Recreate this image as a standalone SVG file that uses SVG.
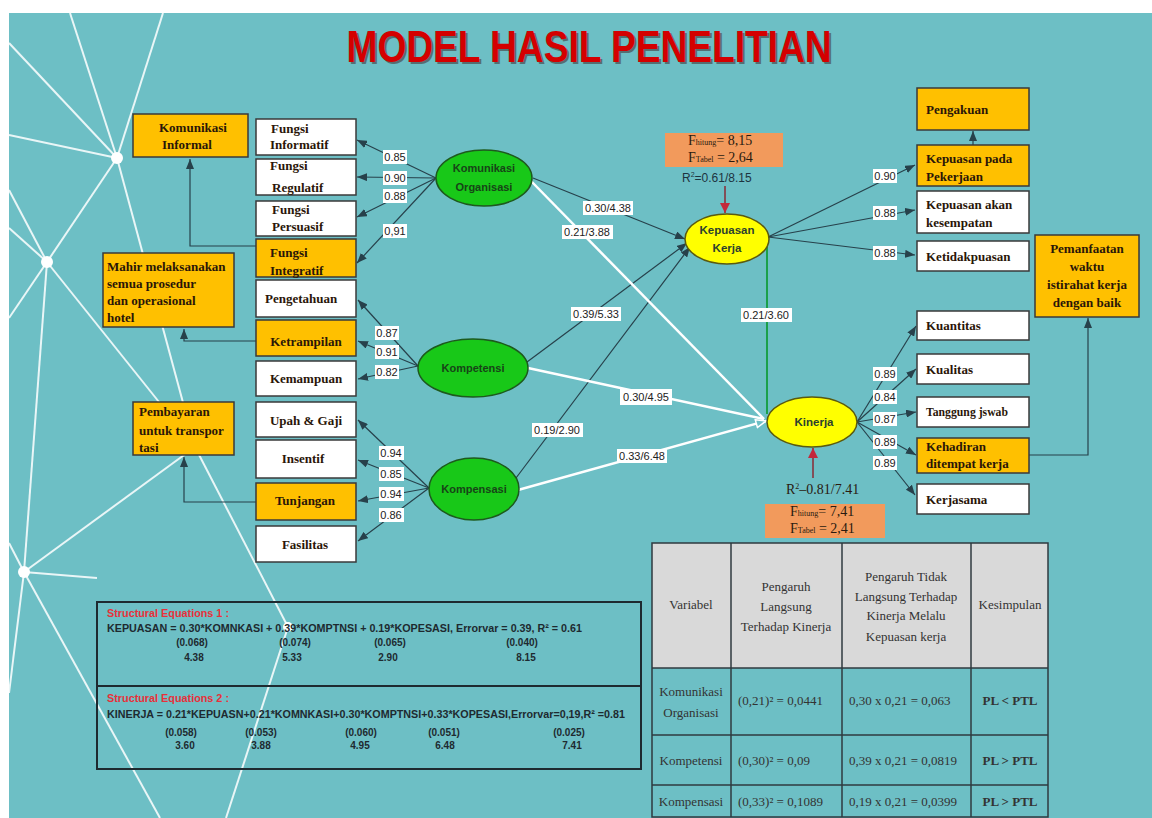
<svg xmlns="http://www.w3.org/2000/svg" width="1152" height="818" viewBox="0 0 1152 818">
  <style>
    .net { stroke: #ffffff; stroke-width: 2; opacity: 0.85; fill: none; }
    .netnode { fill: #ffffff; }
    .ind { fill: #ffffff; stroke: #3a3a3a; stroke-width: 1.5; }
    .indo { fill: #ffc000; stroke: #3a3a3a; stroke-width: 1.5; }
    .bt { font-family: "Liberation Serif", "Times New Roman", serif; font-weight: bold; font-size: 13px; fill: #2a1608; }
    .lat { stroke: #1d5a1d; stroke-width: 1.5; fill: #18c818; }
    .laty { stroke: #5a5a10; stroke-width: 1.5; fill: #ffff00; }
    .lt { font-family: "Liberation Sans", Arial, sans-serif; font-weight: bold; font-size: 11px; fill: #174417; text-anchor: middle; }
    .lty { font-family: "Liberation Sans", Arial, sans-serif; font-weight: bold; font-size: 11.5px; fill: #2b3f2f; text-anchor: middle; }
    .dk { stroke: #27414b; stroke-width: 1.2; fill: none; }
    .wl { stroke: #ffffff; stroke-width: 2.5; fill: none; }
    .tag { fill: #ffffff; }
    .tt { font-family: "Liberation Sans", Arial, sans-serif; font-size: 11px; fill: #222222; text-anchor: middle; }
    .fbox { fill: #f29a5c; }
    .ft { font-family: "Liberation Serif", "Times New Roman", serif; font-size: 14px; fill: #2a1a10; }
    .eq { font-family: "Liberation Sans", Arial, sans-serif; font-weight: bold; font-size: 10.5px; fill: #1e2a30; }
    .eqc { font-family: "Liberation Sans", Arial, sans-serif; font-weight: bold; font-size: 10px; fill: #1e2a30; text-anchor: middle; }
    .eqh { font-family: "Liberation Sans", Arial, sans-serif; font-weight: bold; font-size: 10px; fill: #e8303a; }
    .tb { font-family: "Liberation Serif", "Times New Roman", serif; font-size: 13px; fill: #333333; }
    .tbc { text-anchor: middle; }
    .grid { stroke: #2f3a3f; stroke-width: 1.5; fill: none; }
  </style>
  <defs>
    <marker id="ah" viewBox="0 0 10 8" refX="10" refY="4" markerWidth="10" markerHeight="8" markerUnits="userSpaceOnUse" orient="auto">
      <path d="M0,0 L10,4 L0,8 z" fill="#27414b"/>
    </marker>
    <marker id="ahw" viewBox="0 0 12 10" refX="11" refY="5" markerWidth="12" markerHeight="10" markerUnits="userSpaceOnUse" orient="auto">
      <path d="M1,1 L11,5 L1,9 z" fill="#6dbfc5" stroke="#ffffff" stroke-width="1.5"/>
    </marker>
    <marker id="ahr" viewBox="0 0 10 10" refX="10" refY="5" markerWidth="10" markerHeight="10" markerUnits="userSpaceOnUse" orient="auto">
      <path d="M0,0 L10,5 L0,10 z" fill="#c4283c"/>
    </marker>
  </defs>

  <!-- page and backdrop -->
  <rect x="0" y="0" width="1152" height="818" fill="#ffffff"/>
  <rect x="9" y="13" width="1143" height="805" fill="#6dbfc5"/>

  <!-- decorative network lines -->
  <g id="backdrop-net">
    <line class="net" x1="117" y1="158" x2="70" y2="13"/>
    <line class="net" x1="117" y1="158" x2="163" y2="13"/>
    <line class="net" x1="117" y1="158" x2="9" y2="43"/>
    <line class="net" x1="117" y1="158" x2="9" y2="135"/>
    <line class="net" x1="117" y1="158" x2="47" y2="262"/>
    <line class="net" x1="117" y1="158" x2="195" y2="447"/>
    <line class="net" x1="47" y1="262" x2="9" y2="190"/>
    <line class="net" x1="47" y1="262" x2="9" y2="228"/>
    <line class="net" x1="47" y1="262" x2="9" y2="318"/>
    <line class="net" x1="47" y1="262" x2="24" y2="572"/>
    <line class="net" x1="47" y1="262" x2="195" y2="447"/>
    <line class="net" x1="24" y1="572" x2="9" y2="543"/>
    <line class="net" x1="24" y1="572" x2="9" y2="693"/>
    <line class="net" x1="24" y1="572" x2="195" y2="447"/>
    <line class="net" x1="24" y1="572" x2="97" y2="578"/>
    <line class="net" x1="24" y1="572" x2="160" y2="818"/>
    <line class="net" x1="195" y1="447" x2="288" y2="627"/>
    <line class="net" x1="288" y1="627" x2="226" y2="818"/>
    <circle class="netnode" cx="117" cy="158" r="6"/>
    <circle class="netnode" cx="47" cy="262" r="6"/>
    <circle class="netnode" cx="24" cy="572" r="6"/>
    <circle class="netnode" cx="288" cy="627" r="5"/>
  </g>

  <!-- title -->
  <g id="title">
    <text x="591" y="64" text-anchor="middle" textLength="485" lengthAdjust="spacingAndGlyphs" font-family="Liberation Sans, Arial, sans-serif" font-weight="bold" font-size="44" fill="#3a1010" opacity="0.45">MODEL HASIL PENELITIAN</text>
    <text x="589" y="62" text-anchor="middle" textLength="485" lengthAdjust="spacingAndGlyphs" font-family="Liberation Sans, Arial, sans-serif" font-weight="bold" font-size="44" fill="#d40000">MODEL HASIL PENELITIAN</text>
  </g>

  <!-- connectors -->
  <g id="connectors">
    <!-- Komunikasi Organisasi indicators -->
    <line class="dk" x1="436" y1="178" x2="357" y2="140" marker-end="url(#ah)"/>
    <line class="dk" x1="436" y1="178" x2="357" y2="177" marker-end="url(#ah)"/>
    <line class="dk" x1="436" y1="178" x2="357" y2="217" marker-end="url(#ah)"/>
    <line class="dk" x1="436" y1="178" x2="357" y2="263" marker-end="url(#ah)"/>
    <!-- Kompetensi indicators -->
    <line class="dk" x1="418" y1="366" x2="358" y2="300" marker-end="url(#ah)"/>
    <line class="dk" x1="418" y1="366" x2="358" y2="341" marker-end="url(#ah)"/>
    <line class="dk" x1="418" y1="366" x2="358" y2="379" marker-end="url(#ah)"/>
    <!-- Kompensasi indicators -->
    <line class="dk" x1="429" y1="488" x2="358" y2="420" marker-end="url(#ah)"/>
    <line class="dk" x1="429" y1="488" x2="358" y2="460" marker-end="url(#ah)"/>
    <line class="dk" x1="429" y1="488" x2="358" y2="501" marker-end="url(#ah)"/>
    <line class="dk" x1="429" y1="488" x2="358" y2="541" marker-end="url(#ah)"/>
    <!-- indicator notes -->
    <polyline class="dk" points="256,246 190,246 190,159" marker-end="url(#ah)"/>
    <polyline class="dk" points="256,341 184,341 184,329" marker-end="url(#ah)"/>
    <polyline class="dk" points="256,502 184,502 184,457" marker-end="url(#ah)"/>
    <!-- structural paths to Kepuasan Kerja -->
    <line class="dk" x1="533" y1="178" x2="685" y2="239" marker-end="url(#ah)"/>
    <line class="dk" x1="527" y1="362" x2="687" y2="243" marker-end="url(#ah)"/>
    <line class="dk" x1="516" y1="478" x2="690" y2="247" marker-end="url(#ah)"/>
    <!-- structural paths to Kinerja -->
    <line class="wl" x1="531" y1="181" x2="764" y2="419"/>
    <line class="wl" x1="528" y1="368" x2="764" y2="419"/>
    <line class="wl" x1="518" y1="490" x2="766" y2="421" marker-end="url(#ahw)"/>
    <line x1="767" y1="247" x2="767" y2="414" stroke="#1ba04a" stroke-width="2"/>
    <!-- R squared arrows -->
    <line x1="725" y1="186" x2="725" y2="213" stroke="#8a2a35" stroke-width="1.5" marker-end="url(#ahr)"/>
    <line x1="813" y1="478" x2="813" y2="448" stroke="#8a2a35" stroke-width="1.5" marker-end="url(#ahr)"/>
    <!-- Kepuasan Kerja indicators -->
    <line class="dk" x1="768" y1="237" x2="915" y2="165" marker-end="url(#ah)"/>
    <line class="dk" x1="768" y1="237" x2="915" y2="210" marker-end="url(#ah)"/>
    <line class="dk" x1="768" y1="237" x2="915" y2="255" marker-end="url(#ah)"/>
    <line class="dk" x1="973" y1="145" x2="973" y2="131" marker-end="url(#ah)"/>
    <!-- Kinerja indicators -->
    <line class="dk" x1="857" y1="422" x2="916" y2="326" marker-end="url(#ah)"/>
    <line class="dk" x1="857" y1="422" x2="916" y2="369" marker-end="url(#ah)"/>
    <line class="dk" x1="857" y1="422" x2="916" y2="412" marker-end="url(#ah)"/>
    <line class="dk" x1="857" y1="422" x2="916" y2="455" marker-end="url(#ah)"/>
    <line class="dk" x1="857" y1="422" x2="915" y2="495" marker-end="url(#ah)"/>
    <polyline class="dk" points="1029,455 1088,455 1088,318" marker-end="url(#ah)"/>

    <!-- loading values -->
    <g>
      <rect class="tag" x="383" y="150" width="24" height="14"/><text class="tt" x="395" y="161">0.85</text>
      <rect class="tag" x="383" y="171" width="24" height="14"/><text class="tt" x="395" y="182">0.90</text>
      <rect class="tag" x="383" y="189" width="24" height="14"/><text class="tt" x="395" y="200">0.88</text>
      <rect class="tag" x="383" y="224" width="24" height="14"/><text class="tt" x="395" y="235">0,91</text>
      <rect class="tag" x="375" y="326" width="24" height="14"/><text class="tt" x="387" y="337">0.87</text>
      <rect class="tag" x="375" y="345" width="24" height="14"/><text class="tt" x="387" y="356">0.91</text>
      <rect class="tag" x="375" y="365" width="24" height="14"/><text class="tt" x="387" y="376">0.82</text>
      <rect class="tag" x="379" y="446" width="25" height="14"/><text class="tt" x="391" y="457">0.94</text>
      <rect class="tag" x="379" y="467" width="25" height="14"/><text class="tt" x="391" y="478">0.85</text>
      <rect class="tag" x="379" y="487" width="25" height="14"/><text class="tt" x="391" y="498">0.94</text>
      <rect class="tag" x="379" y="508" width="25" height="14"/><text class="tt" x="391" y="519">0.86</text>
      <rect class="tag" x="873" y="169" width="24" height="14"/><text class="tt" x="885" y="180">0.90</text>
      <rect class="tag" x="873" y="206" width="24" height="14"/><text class="tt" x="885" y="217">0.88</text>
      <rect class="tag" x="873" y="246" width="24" height="14"/><text class="tt" x="885" y="257">0.88</text>
      <rect class="tag" x="873" y="367" width="24" height="14"/><text class="tt" x="885" y="378">0.89</text>
      <rect class="tag" x="873" y="390" width="24" height="14"/><text class="tt" x="885" y="401">0.84</text>
      <rect class="tag" x="873" y="412" width="24" height="14"/><text class="tt" x="885" y="423">0.87</text>
      <rect class="tag" x="873" y="435" width="24" height="14"/><text class="tt" x="885" y="446">0.89</text>
      <rect class="tag" x="873" y="456" width="24" height="14"/><text class="tt" x="885" y="467">0.89</text>
    </g>
    <!-- path coefficients -->
    <g>
      <rect class="tag" x="583" y="201" width="50" height="14"/><text class="tt" x="608" y="212">0.30/4.38</text>
      <rect class="tag" x="562" y="225" width="51" height="14"/><text class="tt" x="587" y="236">0.21/3.88</text>
      <rect class="tag" x="571" y="307" width="50" height="14"/><text class="tt" x="596" y="318">0.39/5.33</text>
      <rect class="tag" x="532" y="423" width="51" height="14"/><text class="tt" x="557" y="434">0.19/2.90</text>
      <rect class="tag" x="620" y="389" width="52" height="16"/><text class="tt" x="646" y="401">0.30/4.95</text>
      <rect class="tag" x="617" y="449" width="50" height="14"/><text class="tt" x="642" y="460">0.33/6.48</text>
      <rect class="tag" x="741" y="308" width="51" height="14"/><text class="tt" x="766" y="319">0.21/3.60</text>
    </g>
  </g>

  <!-- latent variables -->
  <g id="komunikasi-organisasi">
    <ellipse class="lat" cx="484" cy="178" rx="48" ry="28"/>
    <text class="lt" x="484" y="172">Komunikasi</text>
    <text class="lt" x="484" y="191">Organisasi</text>
  </g>
  <g id="kompetensi">
    <ellipse class="lat" cx="473" cy="368" rx="55" ry="29"/>
    <text class="lt" x="473" y="372">Kompetensi</text>
  </g>
  <g id="kompensasi">
    <ellipse class="lat" cx="474" cy="489" rx="45" ry="31"/>
    <text class="lt" x="474" y="493">Kompensasi</text>
  </g>
  <g id="kepuasan-kerja">
    <ellipse class="laty" cx="727" cy="239" rx="42" ry="25"/>
    <text class="lty" x="727" y="234">Kepuasan</text>
    <text class="lty" x="727" y="252">Kerja</text>
  </g>
  <g id="kinerja">
    <ellipse class="laty" cx="812" cy="422" rx="45" ry="25"/>
    <text class="lty" x="814" y="426">Kinerja</text>
  </g>

  <!-- F test and R squared -->
  <g id="uji-kepuasan">
    <rect class="fbox" x="665" y="133" width="118" height="34"/>
    <text class="ft" x="688" y="145">F<tspan font-size="8">hitung</tspan>= 8,15</text>
    <text class="ft" x="688" y="162">F<tspan font-size="8">Tabel</tspan> = 2,64</text>
    <text x="682" y="182" font-family="Liberation Sans, Arial, sans-serif" font-size="12" fill="#1d3440">R<tspan font-size="7" dy="-5">2</tspan><tspan dy="5">=0.61/8.15</tspan></text>
  </g>
  <g id="uji-kinerja">
    <text x="786" y="494" class="ft" font-size="13">R<tspan font-size="8" dy="-5">2</tspan><tspan dy="5">–0.81/7.41</tspan></text>
    <rect class="fbox" x="765" y="504" width="120" height="34"/>
    <text class="ft" x="790" y="516">F<tspan font-size="8">hitung</tspan>= 7,41</text>
    <text class="ft" x="790" y="533">F<tspan font-size="8">Tabel</tspan> = 2,41</text>
  </g>

  <!-- indicators, left -->
  <g id="fungsi-informatif"><rect class="ind" x="256" y="119" width="100" height="36"/><text class="bt" x="271" y="133">Fungsi</text><text class="bt" x="270" y="149">Informatif</text></g>
  <g id="fungsi-regulatif"><rect class="ind" x="256" y="159" width="100" height="36"/><text class="bt" x="270" y="170">Fungsi</text><text class="bt" x="272" y="192">Regulatif</text></g>
  <g id="fungsi-persuasif"><rect class="ind" x="256" y="201" width="100" height="35"/><text class="bt" x="272" y="214">Fungsi</text><text class="bt" x="272" y="231">Persuasif</text></g>
  <g id="fungsi-integratif"><rect class="indo" x="256" y="239" width="100" height="38"/><text class="bt" x="270" y="257">Fungsi</text><text class="bt" x="270" y="275">Integratif</text></g>
  <g id="pengetahuan"><rect class="ind" x="256" y="280" width="100" height="37"/><text class="bt" x="265" y="303" font-weight="normal">Pengetahuan</text></g>
  <g id="ketrampilan"><rect class="indo" x="256" y="320" width="100" height="36"/><text class="bt" x="306" y="346" text-anchor="middle">Ketrampilan</text></g>
  <g id="kemampuan"><rect class="ind" x="256" y="361" width="100" height="35"/><text class="bt" x="306" y="383" text-anchor="middle">Kemampuan</text></g>
  <g id="upah-gaji"><rect class="ind" x="256" y="402" width="100" height="35"/><text class="bt" x="306" y="425" text-anchor="middle">Upah &amp; Gaji</text></g>
  <g id="insentif"><rect class="ind" x="256" y="440" width="100" height="38"/><text class="bt" x="303" y="463" text-anchor="middle">Insentif</text></g>
  <g id="tunjangan"><rect class="indo" x="256" y="483" width="100" height="37"/><text class="bt" x="305" y="505" text-anchor="middle">Tunjangan</text></g>
  <g id="fasilitas"><rect class="ind" x="256" y="526" width="100" height="36"/><text class="bt" x="305" y="549" text-anchor="middle">Fasilitas</text></g>

  <!-- notes, left -->
  <g id="komunikasi-informal"><rect class="indo" x="133" y="114" width="115" height="43"/><text class="bt" x="159" y="132">Komunikasi</text><text class="bt" x="162" y="149">Informal</text></g>
  <g id="mahir"><rect class="indo" x="103" y="253" width="131" height="74"/><text class="bt" x="107" y="271">Mahir melaksanakan</text><text class="bt" x="107" y="288">semua prosedur</text><text class="bt" x="107" y="305">dan operasional</text><text class="bt" x="107" y="322">hotel</text></g>
  <g id="pembayaran"><rect class="indo" x="133" y="402" width="101" height="53"/><text class="bt" x="139" y="416">Pembayaran</text><text class="bt" x="139" y="435">untuk  transpor</text><text class="bt" x="139" y="452">tasi</text></g>

  <!-- indicators, right -->
  <g id="pengakuan"><rect class="indo" x="917" y="88" width="112" height="42"/><text class="bt" x="926" y="114">Pengakuan</text></g>
  <g id="kepuasan-pekerjaan"><rect class="indo" x="917" y="145" width="112" height="41"/><text class="bt" x="926" y="163">Kepuasan pada</text><text class="bt" x="926" y="181">Pekerjaan</text></g>
  <g id="kepuasan-kesempatan"><rect class="ind" x="917" y="191" width="112" height="42"/><text class="bt" x="926" y="209">Kepuasan akan</text><text class="bt" x="926" y="227">kesempatan</text></g>
  <g id="ketidakpuasan"><rect class="ind" x="917" y="241" width="112" height="30"/><text class="bt" x="926" y="261">Ketidakpuasan</text></g>
  <g id="kuantitas"><rect class="ind" x="917" y="311" width="112" height="29"/><text class="bt" x="926" y="330">Kuantitas</text></g>
  <g id="kualitas"><rect class="ind" x="917" y="354" width="112" height="30"/><text class="bt" x="926" y="374">Kualitas</text></g>
  <g id="tanggung-jawab"><rect class="ind" x="917" y="397" width="112" height="30"/><text class="bt" x="926" y="416" font-size="12" textLength="82" lengthAdjust="spacingAndGlyphs">Tanggung jswab</text></g>
  <g id="kehadiran"><rect class="indo" x="917" y="438" width="112" height="35"/><text class="bt" x="926" y="451" font-size="12">Kehadiran</text><text class="bt" x="926" y="468" font-size="12">ditempat  kerja</text></g>
  <g id="kerjasama"><rect class="ind" x="917" y="484" width="112" height="30"/><text class="bt" x="926" y="504">Kerjasama</text></g>
  <g id="pemanfaatan"><rect class="indo" x="1035" y="235" width="104" height="82"/>
    <text class="bt" x="1087" y="253" text-anchor="middle">Pemanfaatan</text>
    <text class="bt" x="1087" y="271" text-anchor="middle" font-weight="normal">waktu</text>
    <text class="bt" x="1087" y="289" text-anchor="middle">istirahat kerja</text>
    <text class="bt" x="1087" y="307" text-anchor="middle">dengan baik</text>
  </g>

  <!-- structural equations -->
  <g id="persamaan-struktural">
    <rect x="97" y="602" width="544" height="167" fill="none" stroke="#1e2a30" stroke-width="2"/>
    <line x1="97" y1="686" x2="641" y2="686" stroke="#1e2a30" stroke-width="2"/>
    <text class="eqh" x="107" y="617" textLength="122" lengthAdjust="spacingAndGlyphs">Structural Equations 1 :</text>
    <text class="eq" x="107" y="632" textLength="475" lengthAdjust="spacingAndGlyphs">KEPUASAN  = 0.30*KOMNKASI  + 0.39*KOMPTNSI  + 0.19*KOPESASI,  Errorvar = 0.39,  R² = 0.61</text>
    <text class="eqc" x="192" y="646">(0.068)</text>
    <text class="eqc" x="295" y="646">(0.074)</text>
    <text class="eqc" x="390" y="646">(0.065)</text>
    <text class="eqc" x="522" y="646">(0.040)</text>
    <text class="eqc" x="194" y="661">4.38</text>
    <text class="eqc" x="292" y="661">5.33</text>
    <text class="eqc" x="388" y="661">2.90</text>
    <text class="eqc" x="526" y="661">8.15</text>
    <text class="eqh" x="107" y="702" textLength="122" lengthAdjust="spacingAndGlyphs">Structural Equations 2 :</text>
    <text class="eq" x="107" y="718" textLength="518" lengthAdjust="spacingAndGlyphs">KINERJA  = 0.21*KEPUASN+0.21*KOMNKASI+0.30*KOMPTNSI+0.33*KOPESASI,Errorvar=0,19,R²  =0.81</text>
    <text class="eqc" x="181" y="736">(0.058)</text>
    <text class="eqc" x="261" y="736">(0.053)</text>
    <text class="eqc" x="361" y="736">(0.060)</text>
    <text class="eqc" x="444" y="736">(0.051)</text>
    <text class="eqc" x="569" y="736">(0.025)</text>
    <text class="eqc" x="185" y="749">3.60</text>
    <text class="eqc" x="261" y="749">3.88</text>
    <text class="eqc" x="360" y="749">4.95</text>
    <text class="eqc" x="445" y="749">6.48</text>
    <text class="eqc" x="572" y="749">7.41</text>
  </g>

  <!-- direct vs indirect effect table -->
  <g id="tabel-pengaruh">
    <rect x="652" y="543" width="396" height="125" fill="#d9d9d9"/>
    <rect class="grid" x="652" y="543" width="396" height="274"/>
    <line class="grid" x1="652" y1="668" x2="1048" y2="668"/>
    <line class="grid" x1="652" y1="735" x2="1048" y2="735"/>
    <line class="grid" x1="652" y1="785" x2="1048" y2="785"/>
    <line class="grid" x1="731" y1="543" x2="731" y2="817"/>
    <line class="grid" x1="842" y1="543" x2="842" y2="817"/>
    <line class="grid" x1="971" y1="543" x2="971" y2="817"/>
    <text class="tb tbc" x="691" y="609">Variabel</text>
    <text class="tb tbc" x="786" y="591">Pengaruh</text>
    <text class="tb tbc" x="786" y="611">Langsung</text>
    <text class="tb tbc" x="786" y="631">Terhadap Kinerja</text>
    <text class="tb tbc" x="906" y="581">Pengaruh Tidak</text>
    <text class="tb tbc" x="906" y="601">Langsung Terhadap</text>
    <text class="tb tbc" x="906" y="620">Kinerja  Melalu</text>
    <text class="tb tbc" x="906" y="641">Kepuasan kerja</text>
    <text class="tb tbc" x="1010" y="609">Kesimpulan</text>
    <text class="tb tbc" x="691" y="696">Komunikasi</text>
    <text class="tb tbc" x="691" y="717">Organisasi</text>
    <text class="tb" x="738" y="705">(0,21)² = 0,0441</text>
    <text class="tb" x="849" y="705">0,30 x 0,21 = 0,063</text>
    <text class="tb tbc" x="1010" y="705" font-weight="bold">PL &lt; PTL</text>
    <text class="tb tbc" x="691" y="765">Kompetensi</text>
    <text class="tb" x="738" y="765">(0,30)² = 0,09</text>
    <text class="tb" x="849" y="765">0,39 x 0,21 = 0,0819</text>
    <text class="tb tbc" x="1010" y="765" font-weight="bold">PL &gt; PTL</text>
    <text class="tb tbc" x="691" y="806">Kompensasi</text>
    <text class="tb" x="738" y="806">(0,33)² = 0,1089</text>
    <text class="tb" x="849" y="806">0,19 x 0,21 = 0,0399</text>
    <text class="tb tbc" x="1010" y="806" font-weight="bold">PL &gt; PTL</text>
  </g>
</svg>
